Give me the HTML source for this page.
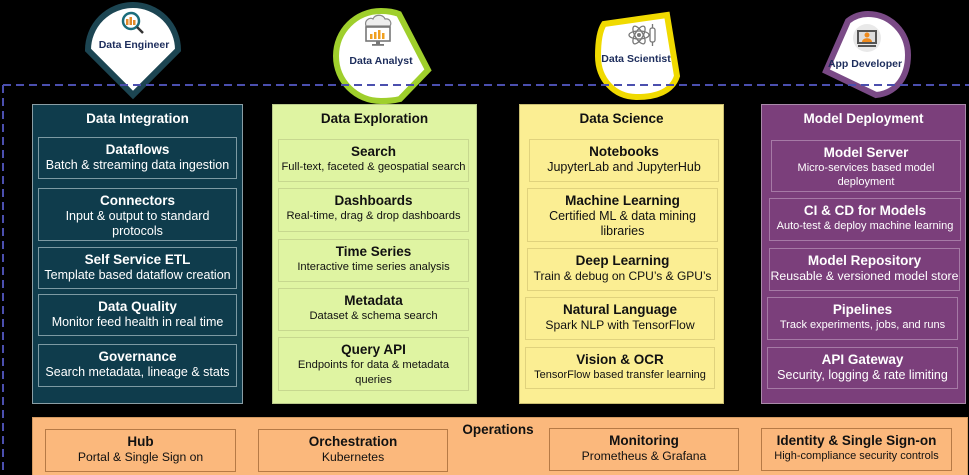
<!DOCTYPE html>
<html><head><meta charset="utf-8">
<style>
*{margin:0;padding:0;box-sizing:border-box}
html,body{width:969px;height:475px;background:#000;overflow:hidden}
body{position:relative;font-family:"Liberation Sans",Arial,sans-serif}
.col{position:absolute;top:104px;width:205px;height:300px;border:1px solid #8a9ea5}
.hdr{position:absolute;left:0;right:0;top:5px;height:18px;line-height:18px;text-align:center;font-weight:bold;font-size:13.5px}
.b{position:absolute;border:1.5px solid;text-align:center;padding-top:3px}
.b .t{font-weight:bold;font-size:13.5px;line-height:17px;white-space:nowrap}
.b .s{font-size:12.5px;line-height:15px;white-space:nowrap}
.c1{background:#0f3c4c;color:#fff}
.c1 .b{border-color:#7d9aa3}
.c2{background:#dff4a2;color:#111;border-color:#b9c98a}
.c2 .b{border-color:#c7d88f}
.c2 .s{font-size:11.2px}
.c3{background:#fbee93;color:#111;border-color:#c9bd70}
.c3 .b{border-color:#e0d27d}
.c4{background:#7b3f7b;color:#fff;border-color:#a98aa9}
.c4 .b{border-color:#a67aa6}
.ops{position:absolute;left:32px;top:417px;width:936px;height:62px;background:#fbb87c;border:1px solid #d49a62;color:#111}
.ops .b{border-color:#b67a46}
</style></head><body>

<svg width="969" height="475" style="position:absolute;left:0;top:0" xmlns="http://www.w3.org/2000/svg">
  <!-- badges -->
  <path d="M88,50 A45,45 0 0 1 178,50 L133,95 Z" fill="#fff" stroke="#1c4552" stroke-width="6" stroke-linejoin="miter"/>
  <path d="M399,14 L428,70 L400,99 C392,101 387,101 381,101 C356,101 336,81 336,56 C336,31 356,11 381,11 C388,11 394,12 399,14 Z" fill="#fff" stroke="#9fcf2c" stroke-width="6"/>
  <path d="M604,24 L667,15 L677,76 C672,92 655,97 637,97 C614,97 598,79 598,56 C598,42 600,30 604,24 Z" fill="#fff" stroke="#f0da00" stroke-width="6"/>
  <path d="M848,21 L826,71 L876,95 C897,93 908,76 908,55 C908,32 890,14 868,14 C860,14 853,17 848,21 Z" fill="#fff" stroke="#7a4a86" stroke-width="6"/>

  <!-- icon: data engineer -->
  <circle cx="131" cy="21" r="8" fill="#fff" stroke="#1b6d7c" stroke-width="2.5"/>
  <rect x="126" y="19" width="2.5" height="6" fill="#e08a2a"/>
  <rect x="129.5" y="17" width="2.5" height="8" fill="#e08a2a"/>
  <rect x="133" y="20" width="2.5" height="5" fill="#e08a2a"/>
  <line x1="137" y1="27" x2="143" y2="33" stroke="#333" stroke-width="2.5"/>

  <!-- icon: data analyst -->
  <path d="M366,26 C364,20 370,17 373,19 C375,14 383,14 385,19 C390,18 392,23 390,26 Z" fill="#eee" stroke="#888" stroke-width="1.2"/>
  <rect x="366" y="27" width="24" height="14" fill="#fff" stroke="#777" stroke-width="1.6"/>
  <rect x="370" y="34" width="2.5" height="5" fill="#f0a020"/>
  <rect x="374" y="32" width="2.5" height="7" fill="#f0a020"/>
  <rect x="378" y="30" width="2.5" height="9" fill="#f0a020"/>
  <rect x="382" y="33" width="2.5" height="6" fill="#f0a020"/>
  <rect x="376" y="41" width="4" height="3" fill="#777"/>
  <rect x="372" y="44" width="12" height="1.8" fill="#777"/>

  <!-- icon: data scientist -->
  <g fill="none" stroke="#777" stroke-width="1.3">
    <ellipse cx="639" cy="35" rx="10" ry="4"/>
    <ellipse cx="639" cy="35" rx="10" ry="4" transform="rotate(60 639 35)"/>
    <ellipse cx="639" cy="35" rx="10" ry="4" transform="rotate(-60 639 35)"/>
    <rect x="650" y="28" width="5" height="14" rx="2"/>
    <path d="M652.5,24 V28 M652.5,42 V46"/>
  </g>
  <circle cx="639" cy="35" r="2" fill="#777"/>

  <!-- icon: app developer -->
  <circle cx="867" cy="38" r="14" fill="#e9e9e9"/>
  <rect x="857" y="30" width="20" height="14" fill="#555"/>
  <rect x="859" y="32" width="16" height="10" fill="#ddd"/>
  <circle cx="867" cy="35" r="2.5" fill="#ef8a1c"/>
  <path d="M862,42 C862,37 872,37 872,42 Z" fill="#ef8a1c"/>
  <rect x="858" y="45" width="18" height="2" fill="#555"/>

  <!-- badge labels -->
  <g font-family="Liberation Sans, Arial, sans-serif" font-weight="bold" font-size="10.5" fill="#1d2d5c" text-anchor="middle">
    <text x="134" y="48">Data Engineer</text>
    <text x="381" y="64">Data Analyst</text>
    <text x="636" y="62">Data Scientist</text>
    <text x="865" y="67">App Developer</text>
  </g>

  <!-- dashed boundary -->
  <line x1="3" y1="85" x2="969" y2="85" stroke="#4b4fae" stroke-width="2" stroke-dasharray="8,5"/>
  <line x1="3" y1="85" x2="3" y2="475" stroke="#4b4fae" stroke-width="2" stroke-dasharray="8,5"/>
</svg>

<!-- Column 1 -->
<div class="col c1" style="left:32px;width:211px">
  <div class="hdr">Data Integration</div>
</div>
<div class="c1">
  <div class="b" style="left:38px;top:137px;width:199px;height:42px"><div class="t">Dataflows</div><div class="s">Batch &amp; streaming data ingestion</div></div>
  <div class="b" style="left:38px;top:188px;width:199px;height:53px"><div class="t">Connectors</div><div class="s">Input &amp; output to standard<br>protocols</div></div>
  <div class="b" style="left:38px;top:247px;width:199px;height:42px"><div class="t">Self Service ETL</div><div class="s">Template based dataflow creation</div></div>
  <div class="b" style="left:38px;top:294px;width:199px;height:42px"><div class="t">Data Quality</div><div class="s">Monitor feed health in real time</div></div>
  <div class="b" style="left:38px;top:344px;width:199px;height:43px"><div class="t">Governance</div><div class="s">Search metadata, lineage &amp; stats</div></div>
</div>

<!-- Column 2 -->
<div class="col c2" style="left:272px">
  <div class="hdr">Data Exploration</div>
</div>
<div class="c2">
  <div class="b" style="left:278px;top:139px;width:191px;height:43px"><div class="t">Search</div><div class="s">Full-text, faceted &amp; geospatial search</div></div>
  <div class="b" style="left:278px;top:188px;width:191px;height:44px"><div class="t">Dashboards</div><div class="s">Real-time, drag &amp; drop dashboards</div></div>
  <div class="b" style="left:278px;top:239px;width:191px;height:43px"><div class="t">Time Series</div><div class="s">Interactive time series analysis</div></div>
  <div class="b" style="left:278px;top:288px;width:191px;height:43px"><div class="t">Metadata</div><div class="s">Dataset &amp; schema search</div></div>
  <div class="b" style="left:278px;top:337px;width:191px;height:54px"><div class="t">Query API</div><div class="s">Endpoints for data &amp; metadata<br>queries</div></div>
</div>

<!-- Column 3 -->
<div class="col c3" style="left:519px">
  <div class="hdr">Data Science</div>
</div>
<div class="c3">
  <div class="b" style="left:529px;top:139px;width:190px;height:43px"><div class="t">Notebooks</div><div class="s">JupyterLab and JupyterHub</div></div>
  <div class="b" style="left:527px;top:188px;width:191px;height:54px"><div class="t">Machine Learning</div><div class="s">Certified ML &amp; data mining<br>libraries</div></div>
  <div class="b" style="left:527px;top:248px;width:191px;height:43px"><div class="t">Deep Learning</div><div class="s" style="font-size:12px">Train &amp; debug on CPU’s &amp; GPU’s</div></div>
  <div class="b" style="left:525px;top:297px;width:190px;height:43px"><div class="t">Natural Language</div><div class="s" style="font-size:12.2px">Spark NLP with TensorFlow</div></div>
  <div class="b" style="left:525px;top:347px;width:190px;height:42px"><div class="t">Vision &amp; OCR</div><div class="s" style="font-size:11px">TensorFlow based transfer learning</div></div>
</div>

<!-- Column 4 -->
<div class="col c4" style="left:761px">
  <div class="hdr">Model Deployment</div>
</div>
<div class="c4">
  <div class="b" style="left:771px;top:140px;width:190px;height:52px"><div class="t">Model Server</div><div class="s" style="font-size:11px;line-height:14px">Micro-services based model<br>deployment</div></div>
  <div class="b" style="left:769px;top:198px;width:192px;height:43px"><div class="t">CI &amp; CD for Models</div><div class="s" style="font-size:11px">Auto-test &amp; deploy machine learning</div></div>
  <div class="b" style="left:769px;top:248px;width:191px;height:43px"><div class="t">Model Repository</div><div class="s" style="font-size:12.3px">Reusable &amp; versioned model store</div></div>
  <div class="b" style="left:767px;top:297px;width:191px;height:43px"><div class="t">Pipelines</div><div class="s" style="font-size:11px">Track experiments, jobs, and runs</div></div>
  <div class="b" style="left:767px;top:347px;width:191px;height:42px"><div class="t">API Gateway</div><div class="s">Security, logging &amp; rate limiting</div></div>
</div>

<!-- Operations -->
<div class="ops"></div>
<div style="position:absolute;left:448px;top:421px;width:100px;text-align:center;font-weight:bold;font-size:13.5px;line-height:18px;color:#111">Operations</div>
<div class="ops" style="background:none;border:none">
</div>
<div style="color:#111">
  <div class="b" style="left:45px;top:429px;width:191px;height:43px;border-color:#b67a46"><div class="t">Hub</div><div class="s" style="font-size:12.2px">Portal &amp; Single Sign on</div></div>
  <div class="b" style="left:258px;top:429px;width:190px;height:43px;border-color:#b67a46"><div class="t">Orchestration</div><div class="s" style="font-size:12.2px">Kubernetes</div></div>
  <div class="b" style="left:549px;top:428px;width:190px;height:43px;border-color:#b67a46"><div class="t">Monitoring</div><div class="s" style="font-size:12.2px">Prometheus &amp; Grafana</div></div>
  <div class="b" style="left:761px;top:428px;width:191px;height:43px;border-color:#b67a46"><div class="t">Identity &amp; Single Sign-on</div><div class="s" style="font-size:11px">High-compliance security controls</div></div>
</div>

</body></html>
